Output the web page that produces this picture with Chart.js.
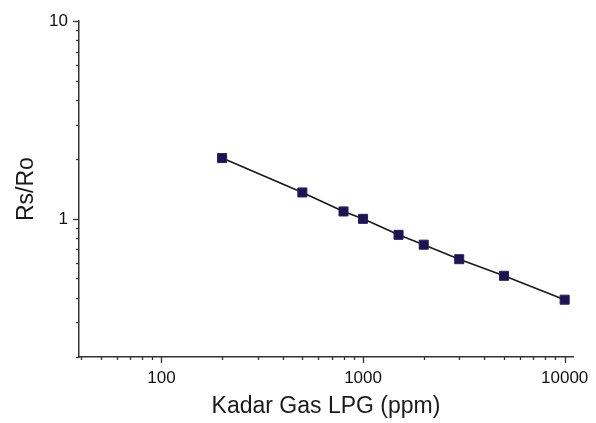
<!DOCTYPE html>
<html>
<head>
<meta charset="utf-8">
<script src="https://cdn.jsdelivr.net/npm/chart.js@4.4.1/dist/chart.umd.min.js"></script>
<style>
  html, body { margin: 0; padding: 0; background: #fff; }
  #wrap { width: 596px; height: 423px; }
</style>
</head>
<body>
<div id="wrap"><canvas id="lpgChart" width="596" height="423"></canvas></div>
<script>
// ---------- DATA ----------
const ppm   = [200, 500, 800, 1000, 1500, 2000, 3000, 5000, 10000];
const rsRo  = [2.03, 1.36, 1.09, 1.0, 0.83, 0.74, 0.625, 0.515, 0.39];
const xMajorLabels = [100, 1000, 10000];
const yMajorLabels = [1, 10];

const axisColor = '#333';
const fontFamily = 'Liberation Sans, Arial, sans-serif';

// tick marks drawn outward, long on decades, short on the rest
const tickMarks = {
  id: 'tickMarks',
  afterDraw(chart) {
    const ctx = chart.ctx;
    const isMajor = v => Math.abs(Math.log10(v) - Math.round(Math.log10(v))) < 1e-6;
    const isWhole = v => { const m = v / Math.pow(10, Math.floor(Math.log10(v) + 1e-9)); return Math.abs(m - Math.round(m)) < 1e-6; };
    ctx.save();
    ctx.strokeStyle = axisColor;
    ctx.lineWidth = 1.3;
    const xs = chart.scales.x, ys = chart.scales.y;
    xs.ticks.forEach(t => {
      if (!isWhole(t.value) || t.value < xs.min || t.value > xs.max) return;
      const px = Math.round(xs.getPixelForValue(t.value)) + 0.5;
      const len = isMajor(t.value) ? 6 : 3;
      ctx.beginPath(); ctx.moveTo(px, xs.top); ctx.lineTo(px, xs.top + len); ctx.stroke();
    });
    ys.ticks.forEach(t => {
      if (!isWhole(t.value) || t.value < ys.min || t.value > ys.max) return;
      const py = Math.round(ys.getPixelForValue(t.value)) + 0.5;
      const len = isMajor(t.value) ? 6 : 3;
      ctx.beginPath(); ctx.moveTo(ys.right, py); ctx.lineTo(ys.right - len, py); ctx.stroke();
    });
    ctx.restore();
  }
};

const ctx = document.getElementById('lpgChart');
new Chart(ctx, {
  type: 'line',
  data: {
    datasets: [{
      data: ppm.map((x, i) => ({ x: x, y: rsRo[i] })),
      borderColor: '#1a1a1a',
      borderWidth: 1.6,
      pointStyle: 'rect',
      pointRadius: 6.4,
      pointBackgroundColor: '#1f1450',
      pointBorderColor: '#2a1e63',
      pointBorderWidth: 1,
      tension: 0
    }]
  },
  options: {
    responsive: false,
    animation: false,
    layout: { padding: { top: 19, right: 23, left: 0, bottom: 0 } },
    plugins: { legend: { display: false }, tooltip: { enabled: false } },
    scales: {
      x: {
        type: 'logarithmic',
        min: 39,
        max: 11000,
        afterFit: s => { s.height = 66; },
        grid: { display: true, drawOnChartArea: false, drawTicks: false },
        border: { display: true, color: axisColor, width: 1.5 },
        ticks: {
          autoSkip: false, maxRotation: 0, padding: 11,
          color: '#111',
          font: { family: fontFamily, size: 17 },
          callback: v => xMajorLabels.includes(v) ? String(v) : ''
        },
        title: {
          display: true, text: 'Kadar Gas LPG (ppm)', color: '#1a1a1a',
          font: { family: fontFamily, size: 23 },
          padding: { top: 0, bottom: 3 }
        }
      },
      y: {
        type: 'logarithmic',
        min: 0.2,
        max: 10,
        afterFit: s => { s.width = 79; },
        grid: { display: true, drawOnChartArea: false, drawTicks: false },
        border: { display: true, color: axisColor, width: 1.5 },
        ticks: {
          autoSkip: false, padding: 11,
          color: '#111',
          font: { family: fontFamily, size: 17 },
          callback: v => yMajorLabels.includes(v) ? String(v) : ''
        },
        title: {
          display: true, text: 'Rs/Ro', color: '#1a1a1a',
          font: { family: fontFamily, size: 23 },
          padding: { top: 13, bottom: 0 }
        }
      }
    }
  },
  plugins: [tickMarks]
});
</script>
</body>
</html>
